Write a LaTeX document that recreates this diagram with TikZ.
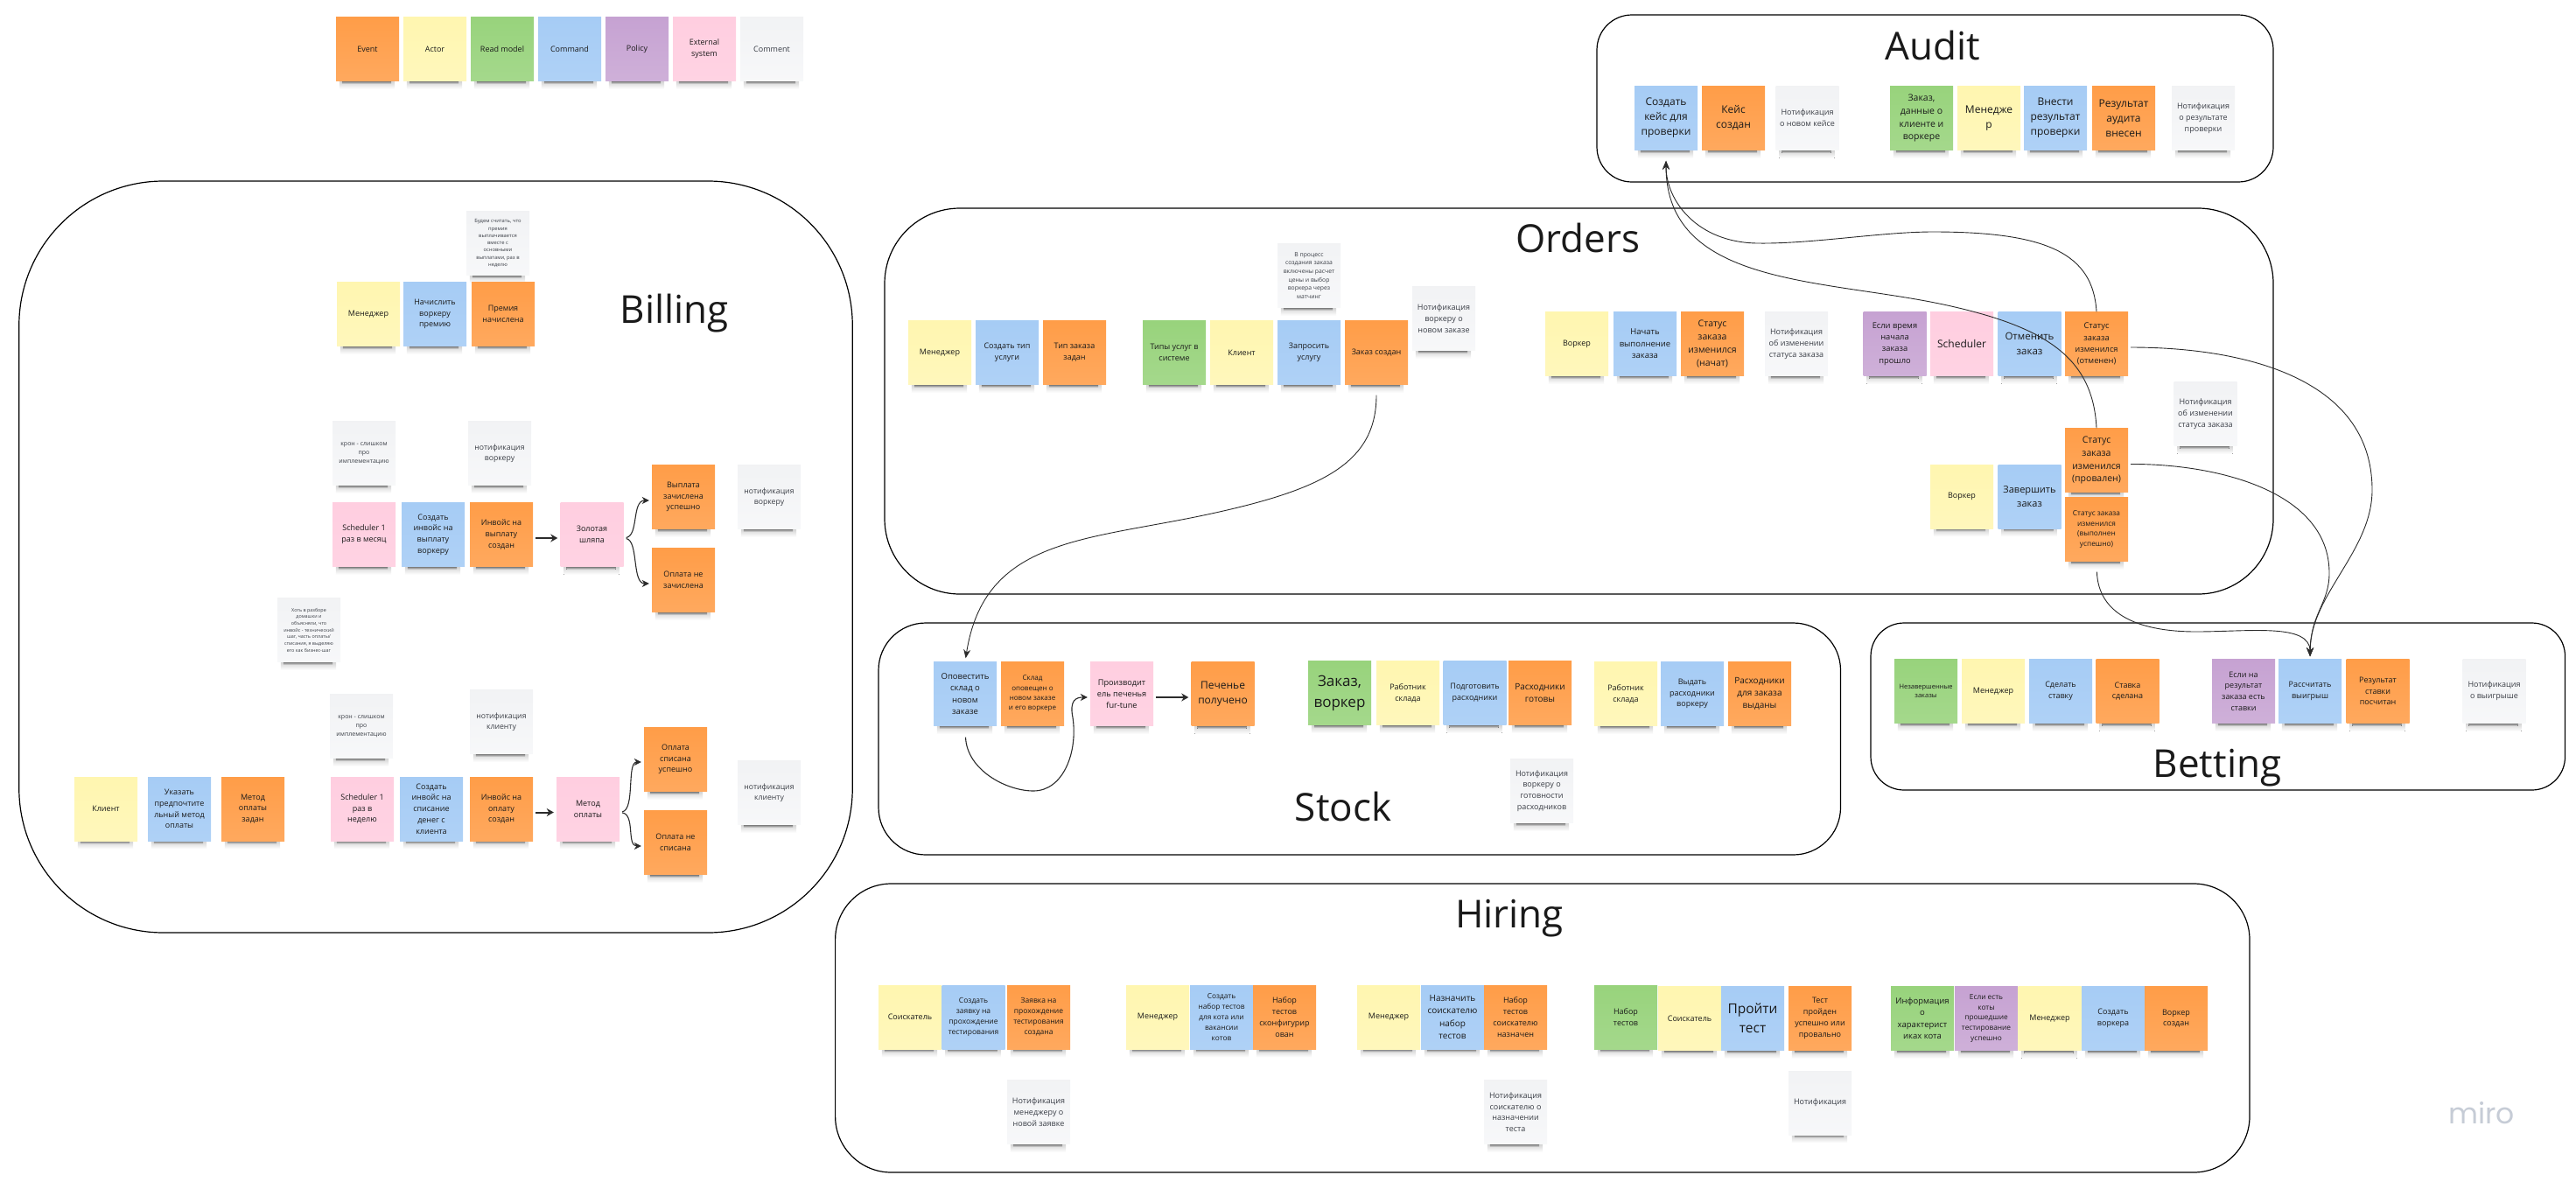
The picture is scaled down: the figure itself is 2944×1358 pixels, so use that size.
\documentclass[tikz,border=0pt]{standalone}
\usepackage{fontspec}
\setmainfont{Open Sans}
\newfontfamily\logofont{Poppins}
\usetikzlibrary{arrows.meta}
\definecolor{evOrange}{HTML}{FF9D48}
\definecolor{acYellow}{HTML}{FFF6B0}
\definecolor{rmGreen}{HTML}{98D37C}
\definecolor{cmBlue}{HTML}{A6CCF5}
\definecolor{poPurple}{HTML}{C6A2D2}
\definecolor{exPink}{HTML}{FFCEE0}
\definecolor{noGrey}{HTML}{F5F6F8}
\definecolor{inkDark}{HTML}{1A1A1A}
\definecolor{inkNote}{HTML}{3A3E46}
\definecolor{lineDark}{HTML}{2B2B2B}
\definecolor{logoGrey}{HTML}{C6CCD6}
\newcommand{\stickyfont}[1]{\fontsize{#1}{\fpeval{#1*1.42}}\selectfont}
\tikzset{
  fs/.style={font=\stickyfont{#1}},
  sticky/.style={minimum width=72pt, minimum height=73pt, inner sep=0pt, align=center, text=inkDark, fs=9,
    append after command={\pgfextra{\begin{pgfinterruptpath}
      \fill[top color=gray!35, bottom color=white] ([xshift=4pt]\tikzlastnode.south west) rectangle ([xshift=-5pt,yshift=-9pt]\tikzlastnode.south east);
      \fill[top color=black!55, bottom color=gray!30] ([xshift=7pt]\tikzlastnode.south west) rectangle ([xshift=-9pt,yshift=-3pt]\tikzlastnode.south east);
    \end{pgfinterruptpath}}}},
  stEvent/.style={sticky, top color=evOrange, bottom color=evOrange!88!white},
  stActor/.style={sticky, top color=acYellow, bottom color=acYellow!85!white},
  stRead/.style={sticky, top color=rmGreen, bottom color=rmGreen!88!white},
  stCmd/.style={sticky, top color=cmBlue, bottom color=cmBlue!90!white},
  stPolicy/.style={sticky, top color=poPurple, bottom color=poPurple!85!white},
  stExt/.style={sticky, top color=exPink, bottom color=exPink!90!white},
  stNote/.style={sticky, text=inkNote, top color=noGrey!97!gray, bottom color=noGrey!80!white},
  area/.style={draw=black, line width=1.2pt, rounded corners=#1},
  title/.style={anchor=base, text=inkDark, font=\fontsize{44}{50}\selectfont},
  flow/.style={draw=lineDark, line width=0.9pt, -{Stealth[length=10pt,width=8pt]}},
  fork/.style={draw=lineDark, line width=1.1pt, -{Stealth[length=8pt,width=8pt,inset=2.5pt]}},
  boldflow/.style={draw=lineDark, line width=2pt, -{Stealth[length=8pt,width=9pt,inset=2.5pt]}}
}
\begin{document}
\begin{tikzpicture}[x=1pt, y=-1pt]
  \useasboundingbox (0,0) rectangle (2944,1358);

  \node[area=165pt, minimum width=952.5pt, minimum height=859pt] (billing) at (498,636.5) {};
  \node[area=86pt, minimum width=1587pt, minimum height=441pt] (orders) at (1804.5,458.5) {};
  \node[area=40pt, minimum width=773pt, minimum height=191pt] (audit) at (2211.5,112.5) {};
  \node[area=54pt, minimum width=1099.5pt, minimum height=265pt] (stock) at (1553.75,844.5) {};
  \node[area=38pt, minimum width=793.5pt, minimum height=191pt] (betting) at (2534.75,807.5) {};
  \node[area=64pt, minimum width=1616.4pt, minimum height=330pt] (hiring) at (1762.8,1175) {};

  \node[title] (billingTitle) at (771,369) {Billing};
  \node[title] (ordersTitle) at (1803,288) {Orders};
  \node[title] (auditTitle) at (2209,68) {Audit};
  \node[title] (stockTitle) at (1535,938) {Stock};
  \node[title] (bettingTitle) at (2534,888) {Betting};
  \node[title] (hiringTitle) at (1725,1060) {Hiring};

  \node[stEvent] (legEvent) at (420,56) {Event};
  \node[stActor] (legActor) at (497,56) {Actor};
  \node[stRead] (legRead) at (574,56) {Read model};
  \node[stCmd] (legCmd) at (651,56) {Command};
  \node[stPolicy] (legPolicy) at (728,56) {Policy};
  \node[stExt] (legExt) at (805,56) {External\\system};
  \node[stNote] (legNote) at (882,56) {Comment};

  \node[stNote, fs=5.8] (bilBonusNote) at (569,278) {Будем считать, что\\премия\\выплачивается\\вместе с\\основными\\выплатами, раз в\\неделю};
  \node[stActor] (bilBonusActor) at (421,359) {Менеджер};
  \node[stCmd] (bilBonusCmd) at (497,359) {Начислить\\воркеру\\премию};
  \node[stEvent] (bilBonusEv) at (575,359) {Премия\\начислена};

  \node[stNote, fs=7] (bilCronA) at (416,518) {крон - слишком\\про\\имплементацию};
  \node[stNote, fs=8.7] (bilNotifA) at (571,518) {нотификация\\воркеру};
  \node[stExt] (bilSchedA) at (416,611) {Scheduler 1\\раз в месяц};
  \node[stCmd] (bilInvoiceA) at (495,611) {Создать\\инвойс на\\выплату\\воркеру};
  \node[stEvent] (bilInvoiceEvA) at (573,611) {Инвойс на\\выплату\\создан};
  \node[stExt] (bilGoldA) at (676.5,611) {Золотая\\шляпа};
  \node[stEvent] (bilPaidA) at (781,568) {Выплата\\зачислена\\успешно};
  \node[stEvent] (bilFailA) at (781,663) {Оплата не\\зачислена};
  \node[stNote, fs=8.7] (bilNotifB) at (879,568) {нотификация\\воркеру};
  \node[stNote, fs=5.4] (bilHwNote) at (353,720) {Хоть в разборе\\домашки и\\объясняли, что\\инвойс - технический\\шаг, часть оплаты/\\списания, я выделяю\\его как бизнес-шаг};

  \node[stNote, fs=7] (bilCronB) at (413,830) {крон - слишком\\про\\имплементацию};
  \node[stNote, fs=8.7] (bilNotifC) at (573,825) {нотификация\\клиенту};
  \node[stActor] (bilClient) at (121,924.5) {Клиент};
  \node[stCmd] (bilMethodCmd) at (205,924.5) {Указать\\предпочтите\\льный метод\\оплаты};
  \node[stEvent] (bilMethodEv) at (289,924.5) {Метод\\оплаты\\задан};
  \node[stExt] (bilSchedB) at (414,924.5) {Scheduler 1\\раз в\\неделю};
  \node[stCmd] (bilInvoiceB) at (493,924.5) {Создать\\инвойс на\\списание\\денег с\\клиента};
  \node[stEvent] (bilInvoiceEvB) at (573,924.5) {Инвойс на\\оплату\\создан};
  \node[stExt] (bilGoldB) at (672,924.5) {Метод\\оплаты};
  \node[stEvent] (bilPaidB) at (772,868) {Оплата\\списана\\успешно};
  \node[stEvent] (bilFailB) at (772,963) {Оплата не\\списана};
  \node[stNote, fs=8.7] (bilNotifD) at (879,906) {нотификация\\клиенту};

  \node[stNote, fs=6.8] (ordPriceNote) at (1496,315) {В процесс\\создания заказа\\включены расчет\\цены и выбор\\воркера через\\матчинг};
  \node[stNote] (ordNotifNew) at (1650,364) {Нотификация\\воркеру о\\новом заказе};
  \node[stActor] (ordManager) at (1074,403) {Менеджер};
  \node[stCmd] (ordTypeCmd) at (1151,403) {Создать тип\\услуги};
  \node[stEvent] (ordTypeEv) at (1228,403) {Тип заказа\\задан};
  \node[stRead] (ordTypes) at (1342,403) {Типы услуг в\\системе};
  \node[stActor] (ordClient) at (1419,403) {Клиент};
  \node[stCmd] (ordRequest) at (1496,403) {Запросить\\услугу};
  \node[stEvent] (ordCreated) at (1573,403) {Заказ создан};

  \node[stActor] (ordWorkerA) at (1802,393) {Воркер};
  \node[stCmd, fs=9.5] (ordStart) at (1880,393) {Начать\\выполнение\\заказа};
  \node[stEvent, fs=10.5] (ordStarted) at (1957,393) {Статус\\заказа\\изменился\\(начат)};
  \node[stNote] (ordNotifA) at (2053,393) {Нотификация\\об изменении\\статуса заказа};
  \node[stPolicy, fs=9.3] (ordTimePolicy) at (2165.5,393) {Если время\\начала\\заказа\\прошло};
  \node[stExt, fs=12] (ordScheduler) at (2242,393) {Scheduler};
  \node[stCmd, fs=11.5] (ordCancel) at (2319.5,393) {Отменить\\заказ};
  \node[stEvent, fs=9.3] (ordCanceled) at (2396,393) {Статус\\заказа\\изменился\\(отменен)};
  \node[stNote] (ordNotifB) at (2520.5,473) {Нотификация\\об изменении\\статуса заказа};
  \node[stEvent, fs=10.5] (ordFailed) at (2396,526) {Статус\\заказа\\изменился\\(провален)};
  \node[stActor] (ordWorkerB) at (2242,567.5) {Воркер};
  \node[stCmd, fs=11] (ordFinish) at (2319.5,567.5) {Завершить\\заказ};
  \node[stEvent, fs=8.3] (ordDone) at (2396,605) {Статус заказа\\изменился\\(выполнен\\успешно)};

  \node[stCmd, fs=12] (audCreate) at (1904,135) {Создать\\кейс для\\проверки};
  \node[stEvent, fs=12] (audCreated) at (1981,135) {Кейс\\создан};
  \node[stNote] (audNotifA) at (2065.5,135) {Нотификация\\о новом кейсе};
  \node[stRead, fs=10.5] (audOrderData) at (2196,135) {Заказ,\\данные о\\клиенте и\\воркере};
  \node[stActor, fs=12] (audManager) at (2273,135) {Менедже\\р};
  \node[stCmd, fs=12] (audResultCmd) at (2349,135) {Внести\\результат\\проверки};
  \node[stEvent, fs=12] (audResultEv) at (2427,135) {Результат\\аудита\\внесен};
  \node[stNote] (audNotifB) at (2518,135) {Нотификация\\о результате\\проверки};

  \node[stCmd, fs=9.5] (stkNotify) at (1103,793) {Оповестить\\склад о\\новом\\заказе};
  \node[stEvent, fs=8] (stkNotified) at (1180,793) {Склад\\оповещен о\\новом заказе\\и его воркере};
  \node[stExt, fs=9.2] (stkMaker) at (1282,793) {Производит\\ель печенья\\fur-tune};
  \node[stEvent, fs=12] (stkCookie) at (1397.5,793) {Печенье\\получено};
  \node[stRead, fs=17] (stkOrder) at (1531,792) {Заказ,\\воркер};
  \node[stActor] (stkWorkerA) at (1609,792) {Работник\\склада};
  \node[stCmd] (stkPrepare) at (1685.5,792) {Подготовить\\расходники};
  \node[stEvent, fs=10] (stkReady) at (1760,792) {Расходники\\готовы};
  \node[stActor] (stkWorkerB) at (1858,793) {Работник\\склада};
  \node[stCmd] (stkGive) at (1934,793) {Выдать\\расходники\\воркеру};
  \node[stEvent, fs=10] (stkGiven) at (2011,793) {Расходники\\для заказа\\выданы};
  \node[stNote] (stkNotif) at (1762,904) {Нотификация\\воркеру о\\готовности\\расходников};

  \node[stRead, fs=7.5] (betOpen) at (2201,790) {Незавершенные\\заказы};
  \node[stActor] (betManager) at (2278,790) {Менеджер};
  \node[stCmd] (betMake) at (2355,790) {Сделать\\ставку};
  \node[stEvent] (betMade) at (2431.5,790) {Ставка\\сделана};
  \node[stPolicy] (betPolicy) at (2564,790) {Если на\\результат\\заказа есть\\ставки};
  \node[stCmd] (betCalc) at (2640,790) {Рассчитать\\выигрыш};
  \node[stEvent] (betResult) at (2717.5,790) {Результат\\ставки\\посчитан};
  \node[stNote] (betNotif) at (2850.5,790) {Нотификация\\о выигрыше};

  \node[stActor] (hirSeekerA) at (1040,1162.5) {Соискатель};
  \node[stCmd, fs=8.5] (hirApply) at (1112.5,1162.5) {Создать\\заявку на\\прохождение\\тестирования};
  \node[stEvent, fs=8.5] (hirApplied) at (1187,1162.5) {Заявка на\\прохождение\\тестирования\\создана};
  \node[stActor] (hirManagerA) at (1323,1162.5) {Менеджер};
  \node[stCmd, fs=8.3] (hirSetCmd) at (1396,1162.5) {Создать\\набор тестов\\для кота или\\вакансии\\котов};
  \node[stEvent] (hirSetEv) at (1468,1162.5) {Набор\\тестов\\сконфигурир\\ован};
  \node[stActor] (hirManagerB) at (1587,1162.5) {Менеджер};
  \node[stCmd, fs=10] (hirAssign) at (1660,1162.5) {Назначить\\соискателю\\набор\\тестов};
  \node[stEvent] (hirAssigned) at (1732,1162.5) {Набор\\тестов\\соискателю\\назначен};
  \node[stRead] (hirTests) at (1858,1162.5) {Набор\\тестов};
  \node[stActor] (hirSeekerB) at (1931,1164) {Соискатель};
  \node[stCmd, fs=15.5] (hirPass) at (2003,1164) {Пройти\\тест};
  \node[stEvent] (hirPassed) at (2080,1164) {Тест\\пройден\\успешно или\\провально};
  \node[stRead, fs=9.5] (hirInfo) at (2197,1164) {Информация\\о\\характерист\\иках кота};
  \node[stPolicy, fs=8.3] (hirPolicy) at (2270,1164) {Если есть\\коты\\прошедшие\\тестирование\\успешно};
  \node[stActor] (hirManagerC) at (2342.5,1164) {Менеджер};
  \node[stCmd] (hirWorkerCmd) at (2415,1164) {Создать\\воркера};
  \node[stEvent] (hirWorkerEv) at (2487,1164) {Воркер\\создан};
  \node[stNote] (hirNotifA) at (1187,1271) {Нотификация\\менеджеру о\\новой заявке};
  \node[stNote] (hirNotifB) at (1732,1271) {Нотификация\\соискателю о\\назначении\\теста};
  \node[stNote] (hirNotifC) at (2080,1260.5) {Нотификация};

  \node[text=logoGrey, font=\logofont\fontsize{33}{38}\selectfont] (miroLogo) at (2836,1272) {miro};

  \draw[boldflow, shorten <=3pt, shorten >=3pt] ([yshift=-4pt]bilInvoiceEvA.east) -- ([yshift=-4pt]bilGoldA.west);
  \draw[fork, shorten <=3pt, shorten >=3pt] ([yshift=-4pt]bilGoldA.east) .. controls (730,612) and (722,572) .. ([yshift=-4pt]bilPaidA.west);
  \draw[fork, shorten <=3pt, shorten >=3pt] ([yshift=-4pt]bilGoldA.east) .. controls (730,618) and (722,667) .. ([yshift=-4pt]bilFailA.west);
  \draw[boldflow, shorten <=3pt, shorten >=3pt] ([yshift=-4pt]bilInvoiceEvB.east) -- ([yshift=-4pt]bilGoldB.west);
  \draw[fork, shorten <=3pt, shorten >=3pt] ([yshift=-4pt]bilGoldB.east) .. controls (726,925) and (716,871) .. ([yshift=-3pt]bilPaidB.west);
  \draw[fork, shorten <=3pt, shorten >=3pt] ([yshift=-4pt]bilGoldB.east) .. controls (726,931) and (716,967) .. ([yshift=-4pt]bilFailB.west);

  \draw[flow, shorten <=12pt, shorten >=4pt] (ordCreated.south) .. controls (1573,530) and (1510,560) .. (1380,588) .. controls (1240,618) and (1125,615) .. (stkNotify.north);
  \draw[fork, shorten <=13pt, shorten >=3pt] (stkNotify.south) .. controls (1105,880) and (1150,904) .. (1181,904) .. controls (1215,904) and (1232,860) .. (1226,820) .. controls (1222,800) and (1230,797) .. ([yshift=-4pt]stkMaker.west);
  \draw[boldflow, shorten <=3pt, shorten >=3pt] ([yshift=-4pt]stkMaker.east) -- ([yshift=-4pt]stkCookie.west);

  \draw[flow, shorten >=12pt] (ordCanceled.north) .. controls (2392,290) and (2340,265) .. (2209,265) .. controls (2150,265) and (2070,279) .. (2008,278) .. controls (1940,277) and (1904,230) .. (audCreate.south);
  \draw[flow, shorten >=12pt] (ordFailed.north) .. controls (2392,410) and (2340,375) .. (2230,350) .. controls (2090,318) and (1904,330) .. (audCreate.south);
  \draw[flow, shorten <=3pt, shorten >=3pt] ([yshift=-4pt]ordCanceled.east) .. controls (2560,397) and (2711,430) .. (2711,560) .. controls (2711,630) and (2640,680) .. (betCalc.north);
  \draw[flow, shorten <=3pt, shorten >=3pt] ([yshift=-4.5pt]ordFailed.east) .. controls (2530,530) and (2662,560) .. (2662,655) .. controls (2662,690) and (2641,700) .. (betCalc.north);
  \draw[flow, shorten <=12pt, shorten >=3pt] (ordDone.south) .. controls (2398,700) and (2440,722) .. (2510,722) .. controls (2570,722) and (2640,712) .. (betCalc.north);
\end{tikzpicture}
\end{document}
